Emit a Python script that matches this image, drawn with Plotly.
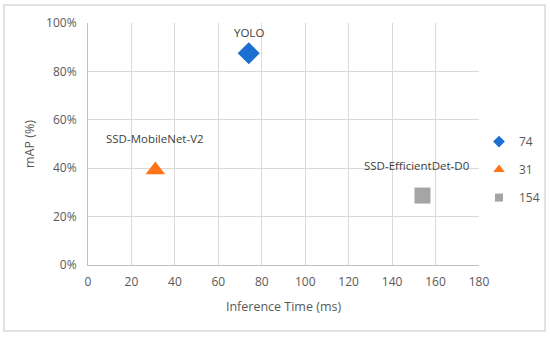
import plotly.graph_objects as go

names = ["YOLO", "SSD-MobileNet-V2", "SSD-EfficientDet-D0"]
legend_labels = ["74", "31", "154"]
inference_ms = [74, 31, 154]
map_pct = [0.875, 0.393, 0.287]
colors = ["#1A6FD0", "#FF7417", "#A5A5A5"]
symbols = ["diamond", "triangle-up", "square"]
sizes = [17, 17, 16]
legend_sizes = [9, 10, 8]

x_ticks = [0, 20, 40, 60, 80, 100, 120, 140, 160, 180]
y_ticks = [0, 0.2, 0.4, 0.6, 0.8, 1.0]

W, H = 550, 338
L, R, T, B = 88, 71, 23, 73

fig = go.Figure()
for i in range(len(names)):
    fig.add_trace(go.Scatter(
        x=[inference_ms[i]], y=[map_pct[i]],
        mode="markers",
        name=legend_labels[i],
        marker=dict(symbol=symbols[i], size=sizes[i], color=colors[i]),
        showlegend=False,
    ))
for i in range(len(names)):
    fig.add_trace(go.Scatter(
        x=[None], y=[None], mode="markers", name=legend_labels[i],
        legendgroup="g%d" % i,
        marker=dict(symbol=symbols[i], size=legend_sizes[i], color=colors[i]),
        showlegend=True, hoverinfo="skip",
    ))

# label offsets (x px, y px above marker)
offsets = [(0, 21), (0, 31), (-6, 30)]
for i in range(len(names)):
    fig.add_annotation(x=inference_ms[i], y=map_pct[i], text=names[i],
                       showarrow=False, xshift=offsets[i][0], yshift=offsets[i][1],
                       font=dict(size=11.5, color="#404040"))

pw = W - L - R
ph = H - T - B
fig.add_shape(type="rect", xref="paper", yref="paper",
              x0=(4 - L) / pw, x1=(545 - L) / pw,
              y0=-(331 - T - ph) / ph, y1=1 + (T - 5) / ph,
              line=dict(color="#D9D9D9", width=1.5), fillcolor="rgba(0,0,0,0)", layer="below")

fig.update_layout(
    width=W, height=H,
    margin=dict(l=L, r=R, t=T, b=B, autoexpand=False),
    paper_bgcolor="white", plot_bgcolor="white",
    font=dict(family="Open Sans, Liberation Sans, sans-serif", color="#595959", size=12),
    xaxis=dict(range=[0, 180], tickvals=x_ticks, showgrid=True, gridcolor="#D9D9D9", gridwidth=1,
               zeroline=False, showline=True, linecolor="#BFBFBF", ticks="", ticklabelstandoff=6,
               title=dict(text="Inference Time (ms)", font=dict(size=12.5, color="#595959"), standoff=12),
               tickfont=dict(size=12, color="#595959")),
    yaxis=dict(range=[0, 1.0], tickvals=y_ticks, tickformat=".0%", showgrid=True, gridcolor="#D9D9D9",
               gridwidth=1, zeroline=False, showline=True, linecolor="#BFBFBF", ticks="", ticklabelstandoff=8,
               title=dict(text="mAP (%)", font=dict(size=12.5, color="#595959"), standoff=8),
               tickfont=dict(size=12, color="#595959")),
    legend=dict(x=1.0, y=0.57, xanchor="left", yanchor="top", bgcolor="rgba(0,0,0,0)",
                font=dict(size=12, color="#595959"), itemwidth=30, tracegroupgap=9),
)

fig.write_html("out.html", config={"displayModeBar": False},
               post_script="document.body.style.margin='0';window.dispatchEvent(new Event('resize'));")
